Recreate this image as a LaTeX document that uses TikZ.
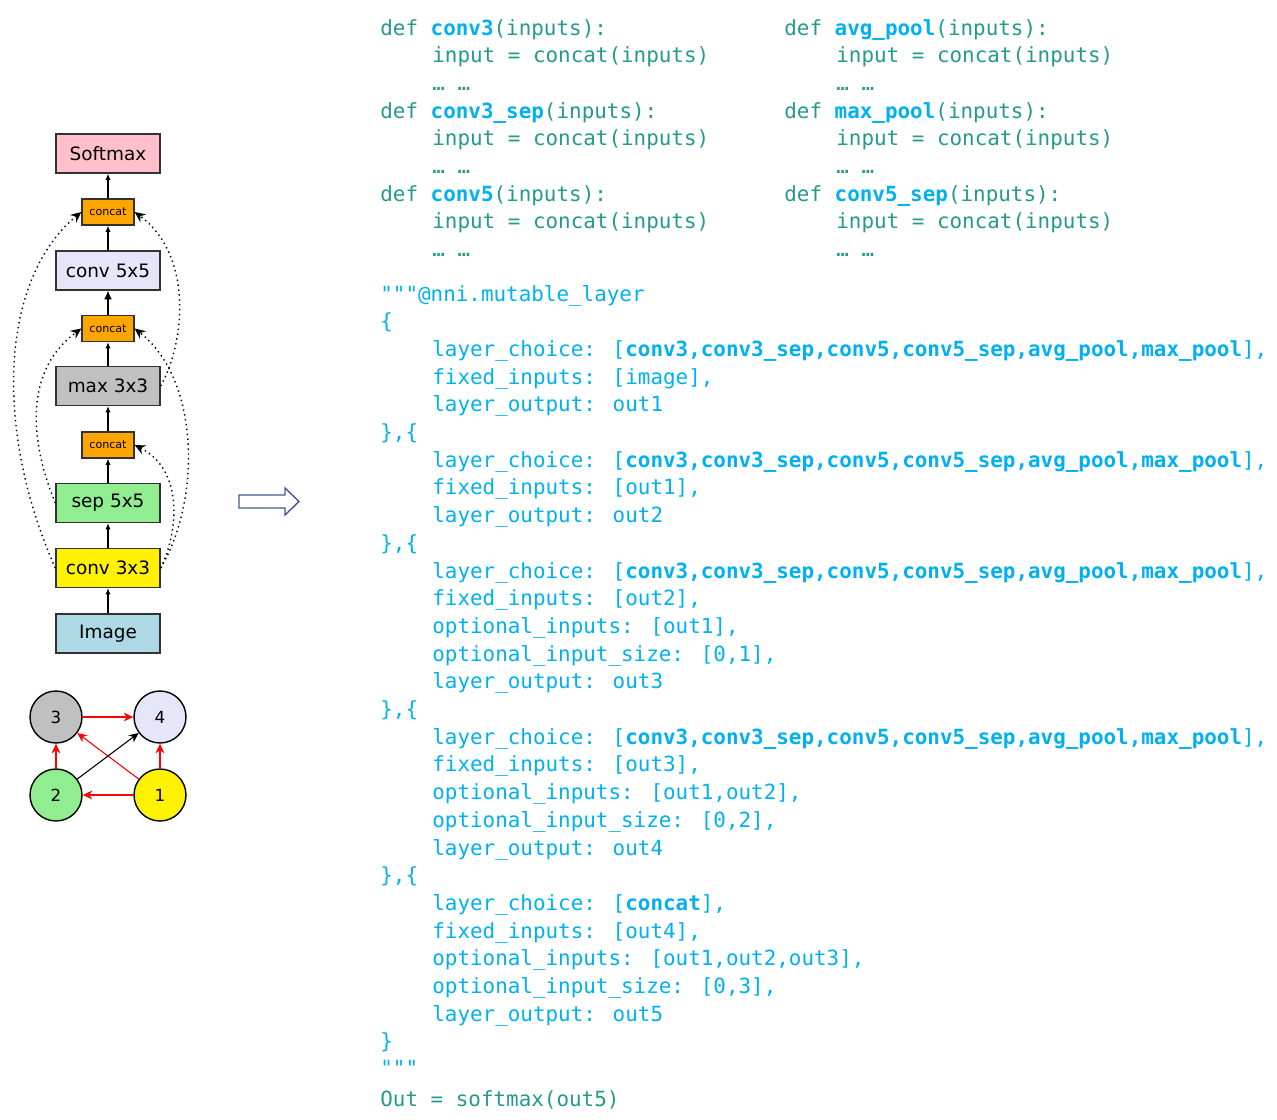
\documentclass[tikz,border=0pt]{standalone}
\usepackage{fontspec}
\setsansfont{DejaVu Sans}
\newfontfamily\codefont{DejaVu Sans Mono}
\usetikzlibrary{arrows.meta}
\definecolor{codeteal}{RGB}{36,154,140}
\definecolor{codeblue}{RGB}{0,176,240}
\definecolor{softmaxpink}{RGB}{255,192,203}
\definecolor{catorange}{RGB}{255,165,0}
\definecolor{convlav}{RGB}{230,230,250}
\definecolor{poolgray}{RGB}{192,192,192}
\definecolor{sepgreen}{RGB}{144,238,144}
\definecolor{imgblue}{RGB}{173,216,230}
\definecolor{boxedge}{RGB}{50,50,50}
\definecolor{bigarrow}{RGB}{68,88,150}
\newcommand{\fname}[1]{\textcolor{codeblue}{\bfseries #1}}
\tikzset{
  opbox/.style={draw=boxedge, line width=0.8pt, minimum width=2.08cm, minimum height=0.78cm, inner sep=0pt, font=\sffamily\fontsize{10.5}{12}\selectfont},
  catbox/.style={draw=boxedge, line width=0.8pt, fill=catorange, minimum width=1.04cm, minimum height=0.52cm, inner sep=0pt, font=\sffamily\fontsize{6.3}{7}\selectfont},
  gnode/.style={circle, draw=black, line width=0.8pt, minimum size=1.04cm, inner sep=0pt, font=\sffamily\fontsize{9.5}{11}\selectfont},
  flow/.style={-{Latex[length=3.5pt,width=3pt]}, line width=0.6pt},
  skip/.style={dotted, line width=0.8pt, -{Stealth[length=6pt,width=5.5pt]}},
  redge/.style={red, line width=0.6pt, -{Stealth[length=5.5pt,width=5pt]}},
  bedge/.style={black, line width=0.6pt, -{Stealth[length=5.5pt,width=5pt]}},
  codeline/.style={anchor=base west, inner sep=0pt, font=\codefont\fontsize{11.9}{14}\selectfont},
  tealline/.style={codeline, text=codeteal},
  blueline/.style={codeline, text=codeblue}
}
\begin{document}
\begin{tikzpicture}[x=0.02cm, y=-0.02cm]
\useasboundingbox (0,0) rectangle (1277,1119);
\node[opbox, fill=softmaxpink] (softmax) at (108,153.5) {Softmax};
\node[catbox] (cat3) at (108,212) {concat};
\node[opbox, fill=convlav] (conv5) at (108,270.5) {conv 5x5};
\node[catbox] (cat2) at (108,328.5) {concat};
\node[opbox, fill=poolgray] (max3) at (108,386) {max 3x3};
\node[catbox] (cat1) at (108,445) {concat};
\node[opbox, fill=sepgreen] (sep5) at (108,503) {sep 5x5};
\node[opbox, fill=yellow] (conv3) at (108,568) {conv 3x3};
\node[opbox, fill=imgblue] (image) at (108,633.5) {Image};
\draw[flow] (image) -- (conv3);
\draw[flow] (conv3) -- (sep5);
\draw[flow] (sep5) -- (cat1);
\draw[flow] (cat1) -- (max3);
\draw[flow] (max3) -- (cat2);
\draw[flow, -{Latex[length=5pt,width=4.5pt]}] (cat2) -- (conv5);
\draw[flow] (conv5) -- (cat3);
\draw[flow] (cat3) -- (softmax);
\draw[skip] (conv3.west) .. controls +(-61,-137) and +(-82,68) .. (cat3.west);
\draw[skip] (sep5.west) .. controls +(-26,-63) and +(-57,42) .. (cat2.west);
\draw[skip] (max3.east) .. controls +(25,-45) and +(58,43) .. (cat3.east);
\draw[skip] (conv3.east) .. controls +(40,-67) and +(66,52) .. (cat2.east);
\draw[skip] (conv3.east) .. controls +(18,-37) and +(49,25) .. (cat1.east);
\node[gnode, fill=poolgray] (n3) at (56,717) {3};
\node[gnode, fill=convlav] (n4) at (160,717) {4};
\node[gnode, fill=sepgreen] (n2) at (56,795) {2};
\node[gnode, fill=yellow] (n1) at (160,795) {1};
\draw[redge] (n3) -- (n4);
\draw[redge] (n2) -- (n3);
\draw[redge] (n1) -- (n4);
\draw[redge] (n1) -- (n2);
\draw[redge] (n1) -- (n3);
\draw[bedge] (n2) -- (n4);
\draw[bigarrow, line width=0.8pt, fill=white] (239,495) -- (285,495) -- (285,488) -- (299,501.5) -- (285,515) -- (285,508) -- (239,508) -- cycle;
\node[tealline] (d1) at (380,35) {def \fname{conv3}(inputs):};
\node[tealline] (d1a) at (432,62.7) {input = concat(inputs)};
\node[tealline] (d1b) at (432,90.4) {… …};
\node[tealline] (d2) at (380,118.1) {def \fname{conv3\_sep}(inputs):};
\node[tealline] (d2a) at (432,145.8) {input = concat(inputs)};
\node[tealline] (d2b) at (432,173.5) {… …};
\node[tealline] (d3) at (380,201.2) {def \fname{conv5}(inputs):};
\node[tealline] (d3a) at (432,228.9) {input = concat(inputs)};
\node[tealline] (d3b) at (432,256.6) {… …};
\node[tealline] (d4) at (784,35) {def \fname{avg\_pool}(inputs):};
\node[tealline] (d4a) at (836,62.7) {input = concat(inputs)};
\node[tealline] (d4b) at (836,90.4) {… …};
\node[tealline] (d5) at (784,118.1) {def \fname{max\_pool}(inputs):};
\node[tealline] (d5a) at (836,145.8) {input = concat(inputs)};
\node[tealline] (d5b) at (836,173.5) {… …};
\node[tealline] (d6) at (784,201.2) {def \fname{conv5\_sep}(inputs):};
\node[tealline] (d6a) at (836,228.9) {input = concat(inputs)};
\node[tealline] (d6b) at (836,256.6) {… …};
\node[blueline] (m0) at (380,301) {"""@nni.mutable\_layer};
\node[blueline] (m1) at (380,328.7) {\{};
\node[blueline] (m2) at (432,356.4) {layer\_choice: [\textbf{conv3,conv3\_sep,conv5,conv5\_sep,avg\_pool,max\_pool}],};
\node[blueline] (m3) at (432,384.1) {fixed\_inputs: [image],};
\node[blueline] (m4) at (432,411.8) {layer\_output: out1};
\node[blueline] (m5) at (380,439.5) {\},\{};
\node[blueline] (m6) at (432,467.2) {layer\_choice: [\textbf{conv3,conv3\_sep,conv5,conv5\_sep,avg\_pool,max\_pool}],};
\node[blueline] (m7) at (432,494.9) {fixed\_inputs: [out1],};
\node[blueline] (m8) at (432,522.6) {layer\_output: out2};
\node[blueline] (m9) at (380,550.3) {\},\{};
\node[blueline] (m10) at (432,578) {layer\_choice: [\textbf{conv3,conv3\_sep,conv5,conv5\_sep,avg\_pool,max\_pool}],};
\node[blueline] (m11) at (432,605.7) {fixed\_inputs: [out2],};
\node[blueline] (m12) at (432,633.4) {optional\_inputs: [out1],};
\node[blueline] (m13) at (432,661.1) {optional\_input\_size: [0,1],};
\node[blueline] (m14) at (432,688.8) {layer\_output: out3};
\node[blueline] (m15) at (380,716.5) {\},\{};
\node[blueline] (m16) at (432,744.2) {layer\_choice: [\textbf{conv3,conv3\_sep,conv5,conv5\_sep,avg\_pool,max\_pool}],};
\node[blueline] (m17) at (432,771.9) {fixed\_inputs: [out3],};
\node[blueline] (m18) at (432,799.6) {optional\_inputs: [out1,out2],};
\node[blueline] (m19) at (432,827.3) {optional\_input\_size: [0,2],};
\node[blueline] (m20) at (432,855) {layer\_output: out4};
\node[blueline] (m21) at (380,882.7) {\},\{};
\node[blueline] (m22) at (432,910.4) {layer\_choice: [\textbf{concat}],};
\node[blueline] (m23) at (432,938.1) {fixed\_inputs: [out4],};
\node[blueline] (m24) at (432,965.8) {optional\_inputs: [out1,out2,out3],};
\node[blueline] (m25) at (432,993.5) {optional\_input\_size: [0,3],};
\node[blueline] (m26) at (432,1021.2) {layer\_output: out5};
\node[blueline] (m27) at (380,1048.9) {\}};
\node[blueline] (m28) at (380,1075) {"""};
\node[tealline] (out) at (380,1106) {Out = softmax(out5)};
\end{tikzpicture}
\end{document}
